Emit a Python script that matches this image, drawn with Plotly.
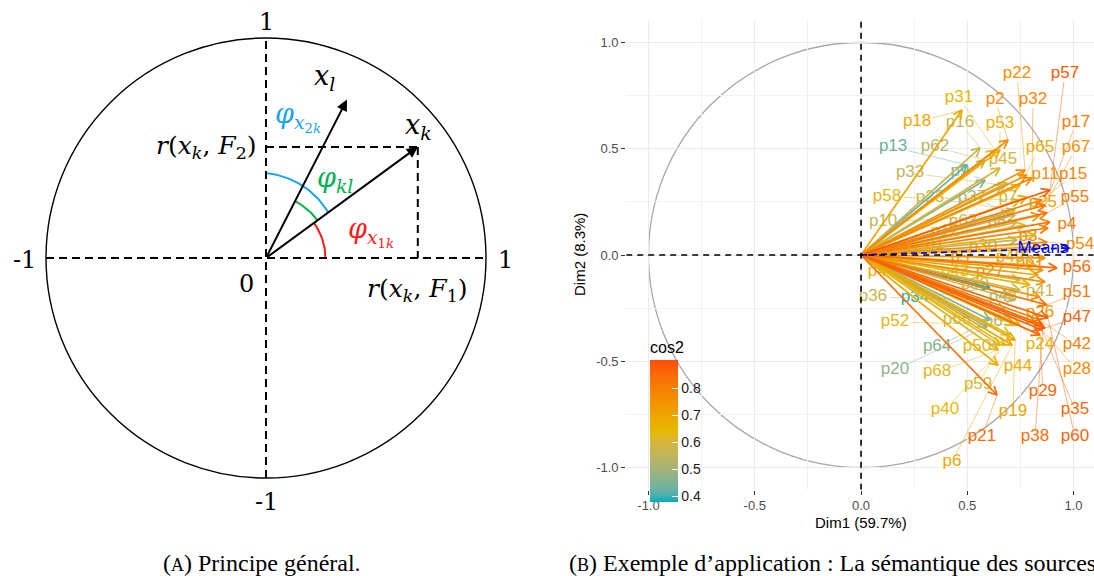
import numpy as np
import plotly.graph_objects as go
import plotly.colors as pc

# ---------------- Panel A data (unit circle principle) ----------------
vec_names = ["x_k", "x_l"]
vec_x = [0.69, 0.368]
vec_y = [0.505, 0.72]

# ---------------- Panel B data (PCA variable coordinates) ----------------
var_names = ["p18", "p31", "p2", "p16", "p53", "p22", "p32", "p57", "p17", "p67",
             "p65", "p45", "p11", "p15", "p13", "p62", "p33", "p9", "p58", "p23",
             "p37", "p7", "p25", "p55", "p10", "p63", "p8", "p4", "p3", "p54",
             "p30", "p61", "p56", "p41", "p51", "p26", "p47", "p24", "p42", "p34",
             "p20", "p66", "p36", "p52", "p48", "p69", "p64", "p50", "p44", "p21",
             "p59", "p29", "p28", "p35", "p60", "p38", "p19", "p40", "p68", "p6",
             "p46", "p43", "p1", "p5", "p12", "p14", "p27", "p39", "p49"]
dim1 = [0.475, 0.631, 0.692, 0.560, 0.654, 0.772, 0.805, 0.889, 0.866, 0.842,
        0.748, 0.654, 0.781, 0.852, 0.499, 0.584, 0.668, 0.584, 0.748, 0.725,
        0.701, 0.687, 0.781, 0.875, 0.725, 0.734, 0.734, 0.889, 0.880, 0.875,
        0.842, 0.856, 0.922, 0.748, 0.875, 0.842, 0.866, 0.748, 0.842, 0.607,
        0.593, 0.701, 0.725, 0.725, 0.701, 0.678, 0.607, 0.701, 0.645, 0.640,
        0.654, 0.842, 0.819, 0.852, 0.880, 0.856, 0.725, 0.678, 0.645, 0.711,
        0.819, 0.795, 0.819, 0.866, 0.772, 0.795, 0.866, 0.748, 0.833]
dim2 = [0.682, 0.494, 0.541, 0.504, 0.494, 0.400, 0.362, 0.306, 0.235, 0.188,
        0.329, 0.409, 0.376, 0.259, 0.424, 0.447, 0.329, 0.353, 0.259, 0.212,
        0.202, 0.339, 0.273, 0.198, 0.188, 0.155, 0.071, 0.155, 0.127, 0.061,
        0.038, -0.071, -0.061, -0.118, -0.235, -0.198, -0.344, -0.329, -0.306, -0.155,
        -0.339, -0.306, -0.212, -0.329, -0.188, -0.259, -0.306, -0.376, -0.518, -0.659,
        -0.424, -0.376, -0.315, -0.353, -0.296, -0.329, -0.400, -0.424, -0.447, -0.424,
        -0.047, -0.141, 0.094, -0.014, 0.141, 0.024, -0.127, -0.165, -0.094]
cos2 = [0.69, 0.64, 0.77, 0.57, 0.67, 0.76, 0.78, 0.88, 0.81, 0.75,
        0.67, 0.60, 0.75, 0.79, 0.43, 0.54, 0.56, 0.47, 0.63, 0.57,
        0.53, 0.59, 0.69, 0.81, 0.56, 0.56, 0.54, 0.81, 0.79, 0.77,
        0.71, 0.74, 0.85, 0.57, 0.82, 0.75, 0.87, 0.67, 0.80, 0.39,
        0.47, 0.59, 0.57, 0.63, 0.53, 0.53, 0.46, 0.63, 0.68, 0.84,
        0.61, 0.85, 0.77, 0.85, 0.86, 0.84, 0.69, 0.64, 0.62, 0.69,
        0.67, 0.65, 0.68, 0.75, 0.62, 0.63, 0.77, 0.59, 0.70]
# label placements (repelled text positions, data units)
label_x = [0.264, 0.461, 0.631, 0.466, 0.654, 0.734, 0.809, 0.960, 1.012, 1.012,
           0.842, 0.668, 0.866, 0.998, 0.151, 0.348, 0.231, 0.466, 0.122, 0.325,
           0.522, 0.692, 0.856, 1.007, 0.104, 0.480, 0.640, 0.969, 0.786, 1.031,
           0.574, 0.795, 1.016, 0.842, 1.016, 0.842, 1.016, 0.842, 1.016, 0.254,
           0.160, 0.452, 0.056, 0.160, 0.668, 0.645, 0.358, 0.546, 0.739, 0.569,
           0.551, 0.856, 1.016, 1.007, 1.007, 0.819, 0.715, 0.395, 0.358, 0.428,
           0.099, 0.442, 0.348, 0.466, 0.395, 0.207, 0.607, 0.536, 0.701]
label_y = [0.626, 0.739, 0.729, 0.621, 0.616, 0.852, 0.729, 0.852, 0.621, 0.504,
           0.504, 0.447, 0.376, 0.376, 0.508, 0.508, 0.386, 0.391, 0.273, 0.268,
           0.268, 0.268, 0.245, 0.268, 0.155, 0.155, 0.155, 0.141, 0.085, 0.047,
           0.038, -0.038, -0.061, -0.174, -0.179, -0.273, -0.296, -0.424, -0.424, -0.202,
           -0.541, -0.306, -0.198, -0.315, -0.198, -0.315, -0.433, -0.433, -0.527, -0.856,
           -0.612, -0.645, -0.541, -0.729, -0.856, -0.856, -0.739, -0.729, -0.551, -0.974,
           -0.080, -0.080, 0.047, -0.014, 0.108, 0.024, -0.080, -0.141, -0.014]

sup_name = "Means"
sup_x = 0.98
sup_y = 0.033

cbar_ticks = [0.4, 0.5, 0.6, 0.7, 0.8]
axis_ticks = [-1.0, -0.5, 0.0, 0.5, 1.0]

# ---------------- styling ----------------
CMIN, CMAX = 0.38, 0.905
grad_cols = [(0, 175, 187), (231, 184, 0), (252, 78, 7)]


def _lin(c):
    c = c / 255.0
    return np.where(c <= 0.04045, c / 12.92, ((c + 0.055) / 1.055) ** 2.4)


def _delin(c):
    c = np.where(c <= 0.0031308, 12.92 * c, 1.055 * np.power(np.clip(c, 0, None), 1 / 2.4) - 0.055)
    return np.clip(c * 255, 0, 255)


M = np.array([[0.4124, 0.3576, 0.1805], [0.2126, 0.7152, 0.0722], [0.0193, 0.1192, 0.9505]])
Minv = np.linalg.inv(M)
WP = np.array([0.95047, 1.0, 1.08883])


def rgb2lab(rgb):
    xyz = M @ _lin(np.array(rgb, float)) / WP
    f = np.where(xyz > 0.008856, np.cbrt(xyz), 7.787 * xyz + 16 / 116)
    return np.array([116 * f[1] - 16, 500 * (f[0] - f[1]), 200 * (f[1] - f[2])])


def lab2rgb(lab):
    fy = (lab[0] + 16) / 116
    fx = fy + lab[1] / 500
    fz = fy - lab[2] / 200
    f = np.array([fx, fy, fz])
    xyz = np.where(f ** 3 > 0.008856, f ** 3, (f - 16 / 116) / 7.787) * WP
    return _delin(Minv @ xyz)


labs = [rgb2lab(c) for c in grad_cols]
cscale = []
for tt in np.linspace(0, 1, 21):
    if tt <= 0.5:
        u, a, b = tt / 0.5, labs[0], labs[1]
    else:
        u, a, b = (tt - 0.5) / 0.5, labs[1], labs[2]
    rr, gg, bb = lab2rgb(a + u * (b - a))
    cscale.append([float(tt), f"rgb({int(round(rr))},{int(round(gg))},{int(round(bb))})"])


def col(c):
    v = min(max((c - CMIN) / (CMAX - CMIN), 0.0), 1.0)
    return pc.sample_colorscale(cscale, [v])[0]


fig = go.Figure()

# ======== Panel A ========
XA, YA = "x", "y"
th_k = np.arctan2(vec_y[0], vec_x[0])
th_l = np.arctan2(vec_y[1], vec_x[1])
t = np.linspace(0, th_k, 40)
fig.add_trace(go.Scatter(x=0.27 * np.cos(t), y=0.27 * np.sin(t), mode="lines",
                         line=dict(color="#FF1A1A", width=2), xaxis=XA, yaxis=YA,
                         hoverinfo="skip", showlegend=False))
t = np.linspace(th_k, th_l, 40)
fig.add_trace(go.Scatter(x=0.29 * np.cos(t), y=0.29 * np.sin(t), mode="lines",
                         line=dict(color="#00B050", width=2), xaxis=XA, yaxis=YA,
                         hoverinfo="skip", showlegend=False))
t = np.linspace(np.pi / 2, th_k, 60)
r = np.linspace(0.386, 0.35, 60)
fig.add_trace(go.Scatter(x=r * np.cos(t), y=r * np.sin(t), mode="lines",
                         line=dict(color="#1AA3F0", width=2), xaxis=XA, yaxis=YA,
                         hoverinfo="skip", showlegend=False))

shapes = []
shapes.append(dict(type="circle", xref=XA, yref=YA, x0=-1, y0=-1, x1=1, y1=1,
                   line=dict(color="black", width=1.4)))
dashA = dict(color="black", width=2, dash="8px,5px")
shapes.append(dict(type="line", xref=XA, yref=YA, x0=-1, y0=0, x1=1, y1=0, line=dashA))
shapes.append(dict(type="line", xref=XA, yref=YA, x0=0, y0=-1, x1=0, y1=1, line=dashA))
shapes.append(dict(type="line", xref=XA, yref=YA, x0=0, y0=vec_y[0], x1=vec_x[0], y1=vec_y[0], line=dashA))
shapes.append(dict(type="line", xref=XA, yref=YA, x0=vec_x[0], y0=vec_y[0], x1=vec_x[0], y1=0, line=dashA))

ann = []
for vx, vy in zip(vec_x, vec_y):
    ann.append(dict(x=vx, y=vy, ax=0, ay=0, xref=XA, yref=YA, axref=XA, ayref=YA,
                    showarrow=True, arrowhead=2, arrowsize=1.1, arrowwidth=2,
                    arrowcolor="black", text=""))

serif = "DejaVu Serif"


def atext(x, y, s, size=24, color="black", xanchor="center"):
    ann.append(dict(x=x, y=y, xref=XA, yref=YA, text=s, showarrow=False,
                    xanchor=xanchor, yanchor="middle",
                    font=dict(family=serif, size=size, color=color)))


atext(0, 1.073, "1")
atext(-1.1, -0.01, "-1")
atext(1.09, -0.01, "1")
atext(-0.09, -0.118, "0")
atext(0, -1.109, "-1")
atext(-0.03, 0.505, "<i>r</i>(<i>x</i><sub><i>k</i></sub>, <i>F</i><sub>2</sub>)", size=25, xanchor="right")
atext(0.69, -0.145, "<i>r</i>(<i>x</i><sub><i>k</i></sub>, <i>F</i><sub>1</sub>)", size=25)
atext(0.268, 0.82, "<i>x</i><sub><i>l</i></sub>", size=27)
atext(0.691, 0.60, "<i>x</i><sub><i>k</i></sub>", size=27)
atext(0.145, 0.641, "<i>φ</i><sub><i>x</i><sub>2<i>k</i></sub></sub>", size=27, color="#1AA3F0")
atext(0.314, 0.355, "<i>φ</i><sub><i>kl</i></sub>", size=27, color="#00B050")
atext(0.475, 0.118, "<i>φ</i><sub><i>x</i><sub>1<i>k</i></sub></sub>", size=27, color="#FF1A1A")

# ======== Panel B ========
XB, YB = "x2", "y2"
colors = [col(c) for c in cos2]

for lx, ly, px, py, c in zip(label_x, label_y, dim1, dim2, colors):
    dx, dy = px - lx, py - ly
    k = np.sqrt((dx / 0.08) ** 2 + (dy / 0.037) ** 2)
    if k <= 1.25:
        continue
    s = 1.0 / k
    fig.add_trace(go.Scatter(x=[lx + s * dx, px], y=[ly + s * dy, py], mode="lines",
                             line=dict(color=c, width=0.6), opacity=0.8,
                             xaxis=XB, yaxis=YB, hoverinfo="skip", showlegend=False))

fig.add_trace(go.Scatter(x=label_x, y=label_y, mode="text", text=var_names,
                         textfont=dict(family="Liberation Sans, Arial", size=17, color=colors),
                         xaxis=XB, yaxis=YB, hoverinfo="skip", showlegend=False))


def head(x, y, L=0.045, a=np.radians(27)):
    th = np.arctan2(y, x)
    return ([x - L * np.cos(th + a), x, x - L * np.cos(th - a)],
            [y - L * np.sin(th + a), y, y - L * np.sin(th - a)])


order = np.argsort(cos2)
for i in order:
    x, y, c = dim1[i], dim2[i], colors[i]
    hx, hy = head(x, y)
    fig.add_trace(go.Scatter(x=[0, x, None] + hx, y=[0, y, None] + hy, mode="lines",
                             line=dict(color=c, width=1.7), xaxis=XB, yaxis=YB,
                             hoverinfo="skip", showlegend=False))

hx, hy = head(sup_x, sup_y)
fig.add_trace(go.Scatter(x=[0, sup_x], y=[0, sup_y], mode="lines",
                         line=dict(color="#0000FF", width=1.7, dash="6px,4px"),
                         xaxis=XB, yaxis=YB, hoverinfo="skip", showlegend=False))
fig.add_trace(go.Scatter(x=hx, y=hy, mode="lines", line=dict(color="#0000FF", width=1.7),
                         xaxis=XB, yaxis=YB, hoverinfo="skip", showlegend=False))
fig.add_trace(go.Scatter(x=[0.856], y=[0.028], mode="text", text=[sup_name],
                         textfont=dict(family="Liberation Sans, Arial", size=17, color="#0000FF"),
                         xaxis=XB, yaxis=YB, hoverinfo="skip", showlegend=False))

fig.add_trace(go.Scatter(x=[dim1[0]], y=[dim2[0]], mode="markers", xaxis=XB, yaxis=YB,
                         hoverinfo="skip", showlegend=False,
                         marker=dict(size=1, opacity=0, color=[cos2[0]], colorscale=cscale,
                                     cmin=CMIN, cmax=CMAX, showscale=True,
                                     colorbar=dict(title=dict(text="cos2", side="top",
                                                              font=dict(family="Liberation Sans, Arial", size=16, color="black")),
                                                   tickvals=cbar_ticks, ticktext=[f"{v:.1f}" for v in cbar_ticks],
                                                   ticks="inside", ticklen=6, tickcolor="white", tickwidth=1,
                                                   tickfont=dict(family="Liberation Sans, Arial", size=14, color="#1A1A1A"),
                                                   x=650 / 1094, xanchor="left", y=1 - 502 / 576, yanchor="bottom",
                                                   len=164 / 576, lenmode="fraction", thickness=28,
                                                   xpad=0, ypad=0, outlinewidth=0))))

shapes.append(dict(type="circle", xref=XB, yref=YB, x0=-1, y0=-1, x1=1, y1=1, layer="below",
                   line=dict(color="#A8A8A8", width=1.3)))
dashB = dict(color="black", width=1.6, dash="6px,5px")
shapes.append(dict(type="line", xref=XB, yref=YB, x0=-1.105, y0=0, x1=1.095, y1=0, line=dashB, layer="above"))
shapes.append(dict(type="line", xref=XB, yref=YB, x0=0, y0=-1.105, x1=0, y1=1.105, line=dashB, layer="above"))

sans = "Liberation Sans, Arial"
ann.append(dict(x=861 / 1094, y=1 - 522 / 576, xref="paper", yref="paper", text="Dim1 (59.7%)",
                xanchor="center", yanchor="middle",
                showarrow=False, font=dict(family=sans, size=15, color="black")))
ann.append(dict(x=580 / 1094, y=1 - 255 / 576, xref="paper", yref="paper", text="Dim2 (8.3%)",
                xanchor="center", yanchor="middle",
                showarrow=False, textangle=-90, font=dict(family=sans, size=15, color="black")))

capfont = dict(family="Liberation Serif, Times New Roman", size=24, color="black")
ann.append(dict(x=262 / 1094, y=1 - 563 / 576, xref="paper", yref="paper",
                xanchor="center", yanchor="middle",
                text="(<span style='font-size:18px'>A</span>) Principe général.",
                showarrow=False, font=capfont))
ann.append(dict(x=567 / 1094, y=1 - 563 / 576, xref="paper", yref="paper",
                xanchor="left", yanchor="middle",
                text="(<span style='font-size:18px'>B</span>) Exemple d’application : La sémantique des sources",
                showarrow=False, font=capfont))

axB = dict(showgrid=True, gridcolor="#EBEBEB", gridwidth=1.2, zeroline=False,
           tickvals=axis_ticks, ticktext=[f"{v:.1f}" for v in axis_ticks],
           ticks="outside", ticklen=4, tickcolor="#333333", tickwidth=1,
           tickfont=dict(family=sans, size=13, color="#4D4D4D"), showline=False,
           minor=dict(tickvals=[-0.75, -0.25, 0.25, 0.75], showgrid=True, gridcolor="#F2F2F2",
                      gridwidth=0.8, ticks=""))

fig.update_layout(
    width=1094, height=576, margin=dict(l=0, r=0, t=0, b=0),
    paper_bgcolor="white", plot_bgcolor="white", showlegend=False,
    xaxis=dict(domain=[2 / 1094, 530 / 1094], range=[-1.2, 1.2], visible=False),
    yaxis=dict(domain=[1 - 511 / 576, 1 - 5 / 576], range=[-1.15, 1.15], visible=False),
    xaxis2=dict(domain=[626.2 / 1094, 1093.7 / 1094], range=[-1.105, 1.095], anchor="y2", **axB),
    yaxis2=dict(domain=[1 - 489.8 / 576, 1 - 20.2 / 576], range=[-1.105, 1.105], anchor="x2", **axB),
    shapes=shapes, annotations=ann,
)

fig.write_html("out.html", config={"displayModeBar": False},
               post_script="document.body.style.margin='0';document.body.style.overflow='hidden';")
